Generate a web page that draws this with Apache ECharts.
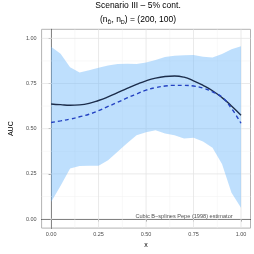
<!DOCTYPE html>
<html>
<head>
<meta charset="utf-8">
<script src="https://cdn.jsdelivr.net/npm/echarts@6/dist/echarts.min.js"></script>
<style>html,body{margin:0;padding:0;background:#fff}#c{width:254px;height:254px}</style>
</head>
<body>
<div id="c"></div>
<script>
const xs = [0,0.05,0.1,0.15,0.2,0.25,0.3,0.35,0.4,0.45,0.5,0.55,0.6,0.65,0.7,0.75,0.8,0.85,0.9,0.95,1.0];
const upper = [0.954,0.915,0.840,0.811,0.824,0.837,0.850,0.858,0.860,0.858,0.866,0.880,0.897,0.903,0.906,0.908,0.898,0.894,0.913,0.939,0.956];
const lower = [0.095,0.185,0.280,0.294,0.295,0.295,0.326,0.372,0.420,0.464,0.481,0.491,0.474,0.464,0.446,0.450,0.429,0.394,0.305,0.145,0.062];
const solid = [0.637,0.633,0.630,0.632,0.640,0.656,0.676,0.699,0.723,0.745,0.765,0.780,0.789,0.792,0.785,0.765,0.740,0.710,0.672,0.626,0.575];
const dashed = [0.534,0.543,0.553,0.566,0.580,0.600,0.623,0.646,0.670,0.692,0.713,0.727,0.736,0.740,0.740,0.736,0.725,0.704,0.675,0.612,0.530];
const majorTicks = [0,0.25,0.5,0.75,1];
const minorTicks = [0.125,0.375,0.625,0.875];
const titleText = 'Scenario III \u2013 5% cont.';
const subtitleText = '(n{s|D\u0304}, n{s|D}) = (200, 100)';
const noteText = 'Cubic B\u2212splines Pepe (1998) estimator';
const notePos = [0.70, 0.015];

const FONT = '"Liberation Sans", Arial, sans-serif';
const chart = echarts.init(document.getElementById('c'), null, {renderer:'canvas'});
const pair = a => xs.map((x,i)=>[x,a[i]]);
const gridSpec = [];
minorTicks.forEach(v=>{gridSpec.push([v,0,0]);gridSpec.push([v,1,0]);});
majorTicks.forEach(v=>{gridSpec.push([v,0,1]);gridSpec.push([v,1,1]);});
const fmt = v => Number(v).toFixed(2);
chart.setOption({
  animation:false,
  textStyle:{fontFamily:FONT},
  grid:{left:25.5,right:3.5,top:29.3,bottom:18.5,show:true,borderColor:'#b3b3b3',borderWidth:1,backgroundColor:'transparent'},
  xAxis:{type:'value',min:-0.05,max:1.05,name:'x',nameLocation:'middle',nameGap:8,
    nameTextStyle:{fontSize:7,color:'#000',fontFamily:FONT},
    axisLine:{show:true,lineStyle:{color:'#333',width:1}},
    axisTick:{show:true,length:2.5,customValues:majorTicks,lineStyle:{color:'#333',width:0.6}},
    axisLabel:{customValues:majorTicks,formatter:fmt,fontSize:5.5,color:'#4d4d4d',margin:3,fontFamily:FONT},
    splitLine:{show:false}},
  yAxis:{type:'value',min:-0.05,max:1.05,name:'AUC',nameLocation:'middle',nameGap:17,
    nameTextStyle:{fontSize:7,color:'#000',fontFamily:FONT},
    axisLine:{show:true,lineStyle:{color:'#333',width:1}},
    axisTick:{show:true,length:2.5,customValues:majorTicks,lineStyle:{color:'#333',width:0.6}},
    axisLabel:{customValues:majorTicks,formatter:fmt,fontSize:5.5,color:'#4d4d4d',margin:5,fontFamily:FONT},
    splitLine:{show:false}},
  graphic:[
    {type:'text',x:138,y:6,style:{text:titleText,font:'8.5px '+FONT,fill:'#000',align:'center',verticalAlign:'middle'}},
    {type:'text',x:138,y:20,style:{text:subtitleText,font:'8.5px '+FONT,fill:'#000',align:'center',verticalAlign:'middle',
      rich:{s:{fontSize:5.5,fontFamily:FONT,padding:[4,0,0,0],verticalAlign:'bottom'}}}}
  ],
  series:[
    {type:'custom',silent:true,z:1,data:gridSpec,
      renderItem:function(params,api){
        const cs = params.coordSys;
        const v = api.value(0), dir = api.value(1), major = api.value(2);
        let p;
        if(dir===0){ const c = api.coord([v,0]); p={x1:c[0],y1:cs.y,x2:c[0],y2:cs.y+cs.height}; }
        else { const c = api.coord([0,v]); p={x1:cs.x,y1:c[1],x2:cs.x+cs.width,y2:c[1]}; }
        return {type:'line',shape:p,style:{stroke:major?'#e3e3e3':'#f1f1f1',lineWidth:major?0.8:0.5}};
      }},
    {type:'custom',silent:true,z:2,data:[[0]],
      renderItem:function(params,api){
        const pts = [];
        xs.forEach((x,i)=>pts.push(api.coord([x,upper[i]])));
        for(let i=xs.length-1;i>=0;i--) pts.push(api.coord([xs[i],lower[i]]));
        return {type:'polygon',shape:{points:pts},style:{fill:'rgba(110,185,250,0.45)'}};
      }},
    {type:'line',data:pair(solid),symbol:'none',smooth:true,lineStyle:{color:'#1c2d4b',width:1.4},z:3},
    {type:'line',data:pair(dashed),symbol:'none',smooth:true,lineStyle:{color:'#2442c2',width:1.4,type:[4,3]},z:4},
    {type:'scatter',data:[notePos],symbolSize:0,silent:true,z:5,
      label:{show:true,position:'inside',formatter:noteText,fontSize:5.6,color:'#1a1a1a',fontFamily:FONT}}
  ]
});
</script>
</body>
</html>
